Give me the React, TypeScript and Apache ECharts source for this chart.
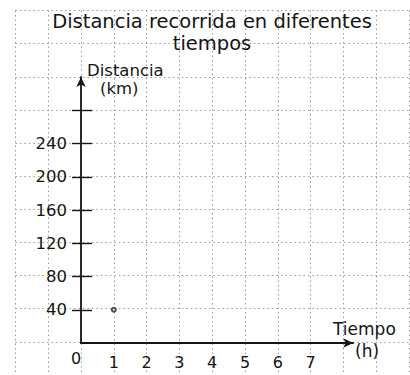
import React, { useEffect, useRef } from "react";
import * as echarts from "echarts";

const titleLines = ["Distancia recorrida en diferentes", "tiempos"];
const yNameLines = ["Distancia", "(km)"];
const xNameLines = ["Tiempo", "(h)"];
const xLabelValues = [0, 1, 2, 3, 4, 5, 6, 7];
const yLabelValues = [40, 80, 120, 160, 200, 240];
const yTickValues = [40, 80, 120, 160, 200, 240, 280];
const points = [[1, 40]];

const FONT = "'DejaVu Sans', 'Open Sans', sans-serif";
const INK = "#151515";
const PAPER = "#9a9a9a";

export default function App() {
  const ref = useRef<HTMLDivElement>(null);
  useEffect(() => {
    if (!ref.current) return;
    const chart = echarts.init(ref.current, undefined, { renderer: "svg" });
    const paperLine = {
      show: true,
      lineStyle: { color: PAPER, width: 1, type: [1.5, 3] as any },
    };
    const txt = (text: string, x: number, y: number, size: number, align: string) => ({
      type: "text",
      x,
      y,
      z: 10,
      style: { text, fontSize: size, fontFamily: FONT, fill: INK, align, verticalAlign: "middle" },
    });
    chart.setOption({
      animation: false,
      backgroundColor: "#ffffff",
      grid: [
        { left: 81, right: 56.8, top: 77, bottom: 32, containLabel: false },
        { left: 15.4, right: 1, top: 10.5, bottom: -1.25, containLabel: false },
      ],
      xAxis: [
        {
          type: "value",
          gridIndex: 0,
          min: 0,
          max: 8.3,
          interval: 1,
          z: 5,
          axisLine: {
            show: true,
            onZero: false,
            symbol: ["none", "arrow"],
            symbolSize: [7, 10],
            lineStyle: { color: INK, width: 1.8 },
          },
          axisTick: { show: false },
          splitLine: { show: false },
          axisLabel: {
            customValues: xLabelValues,
            margin: 9,
            formatter: (v: number) => (v === 0 ? "{z|0}" : "{n|" + v + "}"),
            rich: {
              z: { fontSize: 16, fontFamily: FONT, color: INK, lineHeight: 12, padding: [0, 10, 0, 0] },
              n: { fontSize: 16, fontFamily: FONT, color: INK, lineHeight: 20 },
            },
          },
        },
        {
          type: "value",
          gridIndex: 1,
          min: -2,
          max: 10,
          interval: 1,
          z: 0,
          axisLine: { show: false },
          axisTick: { show: false },
          axisLabel: { show: false },
          splitLine: paperLine,
        },
      ],
      yAxis: [
        {
          type: "value",
          gridIndex: 0,
          min: 0,
          max: 320,
          interval: 40,
          z: 5,
          axisLine: {
            show: true,
            onZero: false,
            symbol: ["none", "arrow"],
            symbolSize: [7, 10],
            lineStyle: { color: INK, width: 1.8 },
          },
          axisTick: {
            show: true,
            customValues: yTickValues,
            length: 9,
            lineStyle: { color: INK, width: 1.4 },
          },
          splitLine: { show: false },
          axisLabel: {
            customValues: yLabelValues,
            margin: 14,
            fontSize: 16.5,
            fontFamily: FONT,
            color: INK,
          },
        },
        {
          type: "value",
          gridIndex: 0,
          min: 0,
          max: 320,
          interval: 40,
          z: 5,
          position: "left",
          axisLine: { show: false, onZero: false },
          axisTick: {
            show: true,
            inside: true,
            customValues: yTickValues,
            length: 11,
            lineStyle: { color: INK, width: 1.4 },
          },
          axisLabel: { show: false },
          splitLine: { show: false },
        },
        {
          type: "value",
          gridIndex: 1,
          min: -40,
          max: 400,
          interval: 40,
          z: 0,
          axisLine: { show: false },
          axisTick: { show: false },
          axisLabel: { show: false },
          splitLine: paperLine,
        },
      ],
      series: [
        {
          type: "scatter",
          xAxisIndex: 0,
          yAxisIndex: 0,
          data: points,
          symbol: "emptyCircle",
          symbolSize: 4,
          z: 6,
          itemStyle: { color: "#222", borderColor: "#222", borderWidth: 1.6 },
        },
      ],
      graphic: [
        txt(titleLines[0], 212, 21, 19.5, "center"),
        txt(titleLines[1], 212, 43, 19.5, "center"),
        txt(yNameLines[0], 87, 70, 16.5, "left"),
        txt(yNameLines[1], 100, 88.5, 16.5, "left"),
        txt(xNameLines[0], 333, 329, 17, "left"),
        txt(xNameLines[1], 355, 351, 17, "left"),
      ],
    });
    return () => chart.dispose();
  }, []);
  return (
    <div
      ref={ref}
      style={{ position: "fixed", left: 0, top: 0, width: 410, height: 375, background: "#fff" }}
    />
  );
}
